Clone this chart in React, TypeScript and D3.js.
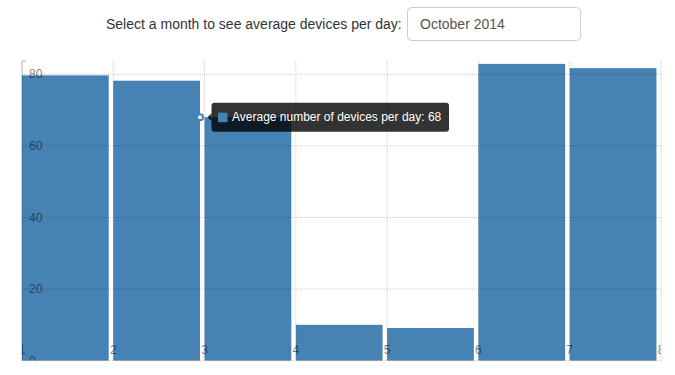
import * as d3 from 'd3';

const days = [1, 2, 3, 4, 5, 6, 7];
const avgDevices = [79.7, 78.2, 68, 10, 9.1, 82.9, 81.7];
const yTicks = [0, 20, 40, 60, 80];
const xTicks = [1, 2, 3, 4, 5, 6, 7, 8];
const hoverDay = 3;
const selectedMonth = 'October 2014';

const width = 675;
const height = 375;
const plot = { left: 22, right: 661, top: 61, bottom: 360.6 };
const barColor = '#4682b4';
const font = '"Liberation Sans", Arial, Helvetica, sans-serif';

const App = () => {
  const x = d3.scaleLinear().domain([1, 8]).range([plot.left, plot.right]);
  const y = d3.scaleLinear().domain([0, 83.7]).range([plot.bottom, plot.top]);
  const step = x(2) - x(1);
  const barW = step * 0.95;

  const hoverIdx = days.indexOf(hoverDay);
  const hv = avgDevices[hoverIdx];
  const dotX = x(hoverDay) - step * 0.05;
  const dotY = y(hv);
  const tipX = dotX + 11.5;
  const tipLabel = `Average number of devices per day: ${Math.round(hv)}`;

  return (
    <div style={{ position: 'absolute', left: 0, top: 0, width, height }}>
      <svg width={width} height={height} style={{ display: 'block', fontFamily: font }}>
        <defs>
          <clipPath id="plotClip">
            <rect x={plot.left} y={plot.top - 5} width={plot.right - plot.left} height={plot.bottom - plot.top + 5} />
          </clipPath>
        </defs>

        {/* header + month select */}
        <text x={106} y={29} fontSize={14} fill="#333">Select a month to see average devices per day:</text>
        <rect x={407.5} y={7.5} width={173} height={33} rx={4} fill="#fff" stroke="#ccc" />
        <text x={420} y={29} fontSize={14} fill="#555">{selectedMonth}</text>

        {/* bars */}
        {days.map((d, i) => (
          <rect key={d} x={x(d)} y={y(avgDevices[i])} width={barW} height={plot.bottom - y(avgDevices[i])} fill={barColor} />
        ))}

        {/* grid */}
        <g stroke="rgba(0,0,0,0.2)" strokeDasharray="1 1" fill="none">
          {yTicks.filter((t) => t > 0).map((t) => (
            <line key={t} x1={plot.left} x2={plot.right} y1={y(t)} y2={y(t)} />
          ))}
          {xTicks.filter((t) => t > 1).map((t) => (
            <line key={t} x1={x(t)} x2={x(t)} y1={plot.top} y2={plot.bottom} />
          ))}
          <line x1={plot.left} x2={plot.right} y1={plot.bottom} y2={plot.bottom} />
        </g>
        <path d={`M${plot.left + 4},${plot.top}H${plot.left}V${plot.bottom}`} stroke="rgba(0,0,0,0.3)" fill="none" />

        {/* axis labels */}
        <g clipPath="url(#plotClip)" fontSize={12} fill="rgba(0,0,0,0.5)">
          {yTicks.map((t) => (
            <text key={t} x={plot.left + 7} y={y(t)} dy="0.35em">{t}</text>
          ))}
          {xTicks.map((t) => (
            <text key={t} x={x(t)} y={354} textAnchor="middle">{t}</text>
          ))}
        </g>

        {/* hover tooltip */}
        <circle cx={dotX} cy={dotY} r={3} fill="#fff" stroke={barColor} strokeWidth={2} />
        <path d={`M${tipX - 4},${dotY}L${tipX},${dotY - 4}V${dotY + 4}Z`} fill="rgba(0,0,0,0.8)" />
        <rect x={tipX} y={dotY - 14.5} width={237.5} height={29} rx={3} fill="rgba(0,0,0,0.8)" />
        <rect x={tipX + 6.5} y={dotY - 4.5} width={9.5} height={9.5} fill={barColor} />
        <text x={tipX + 20.5} y={dotY} dy="0.35em" fontSize={12} fill="#fff">{tipLabel}</text>
      </svg>
    </div>
  );
};

export default App;
